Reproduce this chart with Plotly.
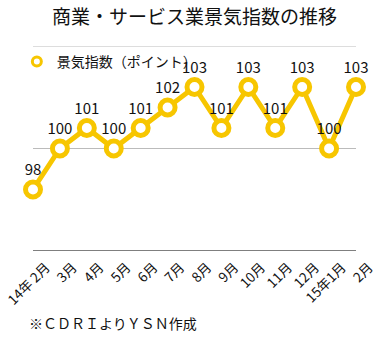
import plotly.graph_objects as go

months = ["14年 2月", "3月", "4月", "5月", "6月", "7月", "8月", "9月", "10月", "11月", "12月", "15年1月", "2月"]
values = [98, 100, 101, 100, 101, 102, 103, 101, 103, 101, 103, 100, 103]
series_name = "景気指数（ポイント）"
title_text = "商業・サービス業景気指数の推移"
source_text = "※ＣＤＲＩよりＹＳＮ作成"

FONT = "Noto Sans CJK JP"
GOLD = "#F7C600"
xs = list(range(len(months)))

fig = go.Figure()
fig.add_trace(go.Scatter(
    x=xs, y=values, mode="lines+markers+text",
    text=[str(v) for v in values], textposition="top center",
    textfont=dict(family=FONT, size=15, color="#111"),
    line=dict(color=GOLD, width=5),
    marker=dict(size=15, color="white", line=dict(color=GOLD, width=5)),
    cliponaxis=False, showlegend=False,
))
fig.add_trace(go.Scatter(
    x=[None], y=[None], mode="markers", name=series_name,
    marker=dict(size=9, color="white", line=dict(color=GOLD, width=3)),
))

fig.update_layout(
    width=389, height=342,
    margin=dict(l=33, r=33, t=46, b=91, autoexpand=False),
    paper_bgcolor="white", plot_bgcolor="white",
    font=dict(family=FONT, color="#111"),
    title=dict(text=title_text, x=0.5, xanchor="center", y=0.95, yanchor="middle",
               font=dict(family=FONT, size=19, color="#111")),
    legend=dict(x=-0.05, y=1.0, xanchor="left", yanchor="top", bgcolor="rgba(0,0,0,0)",
                font=dict(family=FONT, size=14), itemwidth=30),
    xaxis=dict(range=[0, 12], tickvals=xs, ticktext=months, tickangle=-45,
               showgrid=False, zeroline=False, showline=False, automargin=False,
               ticklabeloverflow="allow", ticklabelshift=13, ticklabelstandoff=5,
               tickfont=dict(family=FONT, size=13.5), ticks=""),
    yaxis=dict(range=[95, 105], tickvals=[95, 100, 105], showticklabels=False, automargin=False,
               showgrid=True, gridcolor="#BBBBBB", gridwidth=1, zeroline=False, ticks=""),
    annotations=[dict(text=source_text, xref="paper", yref="paper", x=-0.02, y=-0.35,
                      xanchor="left", yanchor="middle", showarrow=False,
                      font=dict(family=FONT, size=14, color="#111"))],
    shapes=[dict(type="line", xref="paper", yref="y", x0=0, x1=1, y0=95, y1=95,
                 line=dict(color="#555", width=1.5)),
            dict(type="line", xref="paper", yref="y", x0=0, x1=1, y0=105, y1=105,
                 line=dict(color="#BBBBBB", width=1), layer="below")],
)

fig.write_html("out.html")
